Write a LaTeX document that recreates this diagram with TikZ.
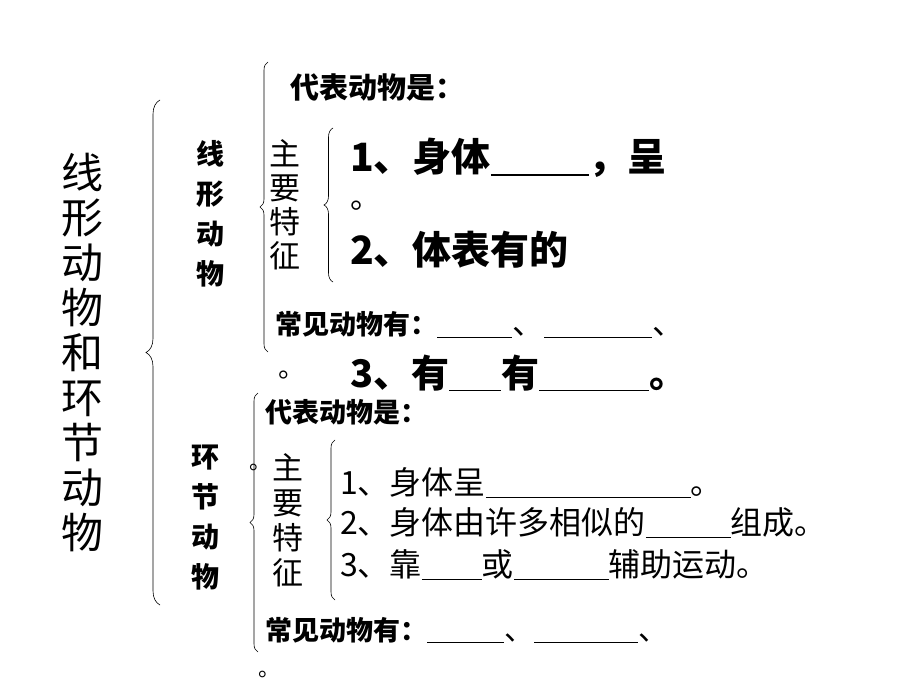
\documentclass[tikz,border=0pt]{standalone}
\usepackage{fontspec}
\newfontfamily\cjk{Noto Sans CJK SC}
\newfontfamily\cjkb{Noto Sans CJK SC Black}
\usetikzlibrary{decorations.pathreplacing}
\newcommand\bl[1]{\rule[-0.1em]{#1pt}{1.3pt}}
\begin{document}
\begin{tikzpicture}[x=1pt,y=-1pt,
  br/.style={decorate,decoration={brace,amplitude=#1},line width=0.6pt},
  vt/.style={align=center,inner sep=0pt},
  t/.style={anchor=west,inner sep=0pt}]
\useasboundingbox (0,0) rectangle (920,690);
\node[vt,font={\cjk\fontsize{42}{45}\selectfont}] (title) at (82,352) {线\\形\\动\\物\\和\\环\\节\\动\\物};
\draw[br=14pt] (160,605) -- (160,100);
% upper
\draw[br=8pt] (268,352) -- (268,62);
\node[vt,font={\cjkb\fontsize{28}{40}\selectfont}] (xx) at (210,214) {线\\形\\动\\物};
\node[t,font={\cjkb\fontsize{29}{30}\selectfont}] (db1) at (290,88) {代表动物是：};
\node[vt,font={\cjk\fontsize{31}{34}\selectfont}] (zy1) at (285,205) {主\\要\\特\\征};
\draw[br=9pt] (333,282) -- (333,128);
\node[t,font={\cjk\bfseries\fontsize{39}{40}\selectfont}] (a1) at (350,158) {1、身体\bl{98}，呈};
\node[t,font={\cjk\fontsize{31}{34}\selectfont}] (a0) at (350,206) {。};
\node[t,font={\cjk\bfseries\fontsize{39}{40}\selectfont}] (a2) at (350,250) {2、体表有的};
\node[t,font={\cjkb\fontsize{27}{28}\selectfont}] (cj1) at (275,325) {常见动物有：\normalfont\cjk\fontsize{32}{32}\selectfont\bl{75}、\bl{108}、};
\node[t,font={\cjk\fontsize{27}{30}\selectfont}] (d0) at (278,375) {。};
\node[t,font={\cjk\bfseries\fontsize{38}{40}\selectfont}] (a3) at (350,373) {3、有\bl{52}有\bl{110}。};
% lower
\draw[br=8pt] (258,652) -- (258,393);
\node[vt,font={\cjkb\fontsize{28}{40}\selectfont}] (hj) at (205,518) {环\\节\\动\\物};
\node[t,font={\cjkb\fontsize{27}{28}\selectfont}] (db2) at (265,412) {代表动物是：};
\node[vt,font={\cjk\fontsize{31}{35}\selectfont}] (zy2) at (288,520) {主\\要\\特\\征};
\node[t,font={\cjk\fontsize{22}{24}\selectfont}] (e0) at (249,467) {。};
\draw[br=8pt] (335,600) -- (335,440);
\node[t,font={\cjk\fontsize{32}{32}\selectfont}] (c1) at (340,483) {1、身体呈\bl{205}。};
\node[t,font={\cjk\fontsize{32}{32}\selectfont}] (c2) at (340,523) {2、身体由许多相似的\bl{85}组成。};
\node[t,font={\cjk\fontsize{32}{32}\selectfont}] (c3) at (340,565) {3、靠\bl{60}或\bl{95}辅助运动。};
\node[t,font={\cjkb\fontsize{27}{28}\selectfont}] (cj2) at (265,630) {常见动物有：\normalfont\cjk\fontsize{30}{30}\selectfont\bl{77}、\bl{104}、};
\node[t,font={\cjk\fontsize{22}{24}\selectfont}] (f0) at (258,674) {。};
\end{tikzpicture}
\end{document}
